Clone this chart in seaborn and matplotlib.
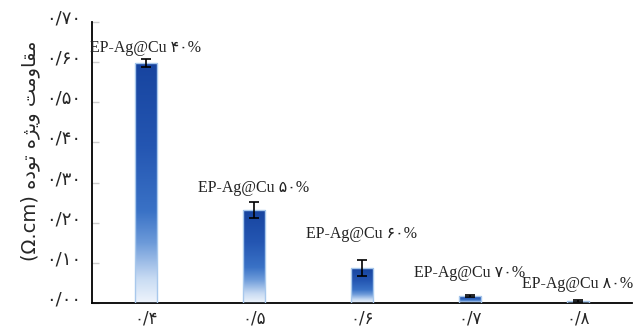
import numpy as np
import pandas as pd
import matplotlib
matplotlib.use('Agg')
import matplotlib.pyplot as plt
import matplotlib.transforms as mtransforms
from matplotlib.colors import LinearSegmentedColormap
import seaborn as sns

# data
loadings = ['۰/۴', '۰/۵', '۰/۶', '۰/۷', '۰/۸']
resistivity = [0.598, 0.232, 0.087, 0.018, 0.005]
errors = [0.011, 0.020, 0.020, 0.003, 0.002]
bar_labels = ['EP-Ag@Cu ۴۰%', 'EP-Ag@Cu ۵۰%', 'EP-Ag@Cu ۶۰%',
              'EP-Ag@Cu ۷۰%', 'EP-Ag@Cu ۸۰%']
y_ticks = [0.0, 0.1, 0.2, 0.3, 0.4, 0.5, 0.6, 0.7]
y_tick_labels = ['۰/۰۰', '۰/۱۰', '۰/۲۰', '۰/۳۰', '۰/۴۰', '۰/۵۰', '۰/۶۰', '۰/۷۰']
label_offsets = [2, 4, 13, 10, 6]  # points above each error bar

# y label "مقاومت ویژه توده (Ω.cm)" shaped by hand (presentation forms, visual order)
shaped = ('\uFEE3\uFED8\uFE8E\uFEED\uFEE3\uFE96 '
          '\uFEED\uFBFE\uFB8B\uFEE9 '
          '\uFE97\uFEEE\uFEA9\uFEE9')
y_label = '(Ω.cm) ' + shaped[::-1]

df = pd.DataFrame({'loading': loadings, 'resistivity': resistivity})

sns.set_theme(style='white')
plt.rcParams['font.family'] = ['Liberation Serif', 'DejaVu Sans']

fig, ax = plt.subplots(figsize=(6.39, 3.30), dpi=100)
fig.subplots_adjust(left=92 / 639, right=632 / 639, bottom=1 - 303 / 330, top=1 - 22 / 330)

sns.barplot(data=df, x='loading', y='resistivity', width=0.21,
            color='#1a4aa8', errorbar=None, ax=ax)

# blue gradient inside each bar, fading out near the bottom
cmap = LinearSegmentedColormap.from_list(
    'bar', [(0.0, '#eef4fc'), (0.1, '#c8dbf3'), (0.25, '#6c9ad9'),
            (0.38, '#3a72c6'), (0.65, '#2456b2'), (1.0, '#17449f')])
grad = np.linspace(0, 1, 256).reshape(-1, 1)
for patch in ax.patches:
    x0, w, h = patch.get_x(), patch.get_width(), patch.get_height()
    im = ax.imshow(grad, cmap=cmap, origin='lower', aspect='auto',
                   extent=[x0, x0 + w, 0, h], zorder=2)
    im.set_clip_path(patch)
    patch.set_facecolor('none')
    patch.set_edgecolor('#a8c8ec')
    patch.set_linewidth(1.0)
    patch.set_zorder(3)

ax.errorbar(x=range(len(loadings)), y=resistivity, yerr=errors, fmt='none',
            ecolor='black', elinewidth=1.2, capsize=3.5, capthick=1.2, zorder=4)

for i, (v, e, lab, off) in enumerate(zip(resistivity, errors, bar_labels, label_offsets)):
    ax.annotate(lab, xy=(i, v + e), xytext=(0, off), textcoords='offset points',
                ha='center', va='bottom', fontsize=11.5, color='#222222')

ax.set_xlim(-0.5, len(loadings) - 0.5)
ax.set_ylim(0, 0.7)
ax.set_yticks(y_ticks)
ax.set_yticklabels(y_tick_labels, family=['DejaVu Sans'])
ax.set_xticks(range(len(loadings)))
ax.set_xticklabels(loadings, family=['DejaVu Sans'])

ax.tick_params(axis='y', direction='in', length=5, color='#cccccc', width=1,
               labelsize=13, pad=8, left=True)
ax.tick_params(axis='x', length=0, labelsize=12, pad=5)

# tick labels in the reference sit a little above their ticks
shift = mtransforms.ScaledTranslation(0, 4 / 72, fig.dpi_scale_trans)
for t in ax.get_yticklabels():
    t.set_transform(t.get_transform() + shift)

for s in ['top', 'right']:
    ax.spines[s].set_visible(False)
for s in ['left', 'bottom']:
    ax.spines[s].set_color('black')
    ax.spines[s].set_linewidth(1.3)

ax.set_xlabel('')
ax.set_ylabel(y_label, fontsize=14, family=['DejaVu Sans'])
ax.yaxis.set_label_coords(-0.115, 0.54)
ax.yaxis.label.set_va('center')

fig.savefig('out.png', dpi=100)
